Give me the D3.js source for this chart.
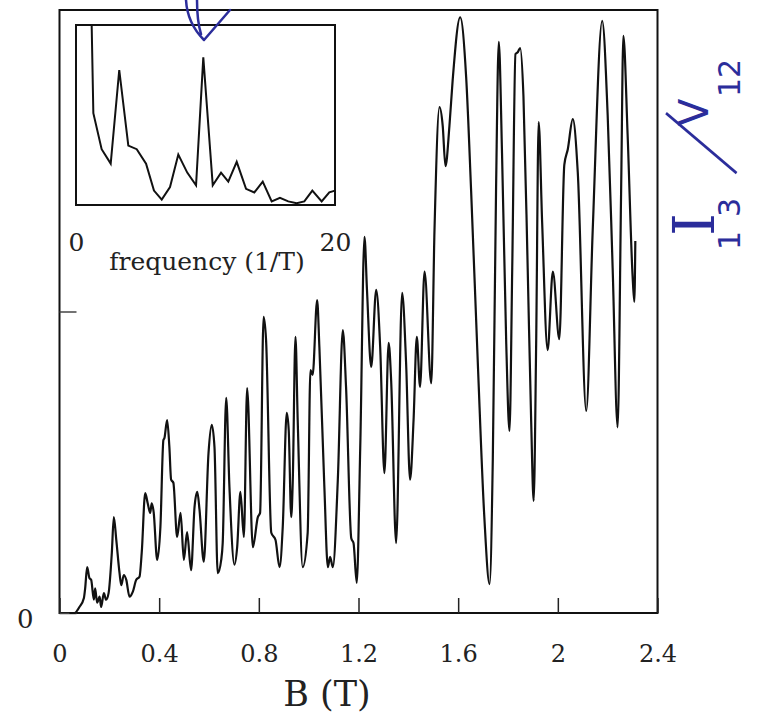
<!DOCTYPE html>
<html>
<head>
<meta charset="utf-8">
<script src="https://cdnjs.cloudflare.com/ajax/libs/d3/7.8.5/d3.min.js"></script>
<style>
body { margin: 0; background: #fff; }
svg { display: block; }
</style>
</head>
<body>
<div id="chart"></div>
<script>
// main trace, B in tesla, signal in arbitrary units (frame top = 1)
var fieldB = [0.04, 0.060, 0.080, 0.098, 0.103, 0.111, 0.120, 0.127, 0.138, 0.143, 0.151, 0.161, 0.167, 0.178, 0.187, 0.197,
    0.210, 0.218, 0.228, 0.241, 0.248, 0.258, 0.268, 0.281, 0.294, 0.308, 0.321, 0.330, 0.344, 0.354, 0.364, 0.370,
    0.378, 0.392, 0.405, 0.417, 0.421, 0.432, 0.441, 0.448, 0.457, 0.472, 0.486, 0.499, 0.512, 0.528, 0.542, 0.553,
    0.562, 0.579, 0.598, 0.611, 0.622, 0.635, 0.649, 0.655, 0.669, 0.682, 0.702, 0.713, 0.726, 0.740, 0.753, 0.776,
    0.796, 0.805, 0.819, 0.829, 0.850, 0.867, 0.883, 0.896, 0.912, 0.920, 0.930, 0.936, 0.947, 0.956, 0.976, 0.996,
    1.007, 1.016, 1.034, 1.043, 1.063, 1.077, 1.086, 1.097, 1.117, 1.137, 1.150, 1.171, 1.180, 1.193, 1.207, 1.224,
    1.234, 1.251, 1.271, 1.287, 1.304, 1.321, 1.331, 1.351, 1.375, 1.391, 1.407, 1.421, 1.434, 1.447, 1.465, 1.492,
    1.505, 1.525, 1.538, 1.549, 1.565, 1.578, 1.608, 1.632, 1.652, 1.679, 1.705, 1.726, 1.739, 1.752, 1.763, 1.776,
    1.793, 1.806, 1.817, 1.830, 1.839, 1.849, 1.862, 1.879, 1.893, 1.903, 1.913, 1.923, 1.937, 1.959, 1.980, 2.006,
    2.026, 2.040, 2.060, 2.080, 2.114, 2.140, 2.178, 2.200, 2.220, 2.240, 2.254, 2.263, 2.280, 2.300, 2.307, 2.311];
var signal = [0.000, 0.000, 0.010, 0.025, 0.041, 0.076, 0.058, 0.055, 0.022, 0.041, 0.017, 0.027, 0.010, 0.033, 0.022, 0.033,
    0.100, 0.159, 0.121, 0.066, 0.046, 0.063, 0.055, 0.027, 0.035, 0.055, 0.060, 0.100, 0.199, 0.182, 0.166, 0.182,
    0.167, 0.088, 0.143, 0.287, 0.290, 0.320, 0.275, 0.221, 0.216, 0.126, 0.166, 0.088, 0.134, 0.071, 0.176, 0.201,
    0.171, 0.085, 0.265, 0.312, 0.275, 0.066, 0.088, 0.116, 0.357, 0.209, 0.080, 0.109, 0.201, 0.126, 0.373, 0.109,
    0.159, 0.166, 0.491, 0.453, 0.133, 0.121, 0.076, 0.143, 0.332, 0.303, 0.159, 0.216, 0.458, 0.320, 0.076, 0.133,
    0.403, 0.395, 0.519, 0.441, 0.209, 0.076, 0.093, 0.076, 0.221, 0.469, 0.375, 0.124, 0.116, 0.050, 0.275, 0.624,
    0.536, 0.408, 0.536, 0.441, 0.232, 0.448, 0.386, 0.116, 0.531, 0.415, 0.221, 0.320, 0.458, 0.375, 0.566, 0.381,
    0.635, 0.839, 0.808, 0.741, 0.808, 0.884, 0.988, 0.889, 0.700, 0.413, 0.159, 0.048, 0.255, 0.700, 0.947, 0.763,
    0.446, 0.302, 0.572, 0.927, 0.930, 0.937, 0.857, 0.572, 0.318, 0.186, 0.446, 0.814, 0.648, 0.436, 0.566, 0.454,
    0.743, 0.769, 0.819, 0.731, 0.335, 0.635, 0.982, 0.826, 0.572, 0.308, 0.700, 0.957, 0.794, 0.559, 0.516, 0.617];

// inset spectrum
var freq = [1.21, 1.34, 1.98, 2.68, 3.34, 4.04, 4.69, 5.41, 6.02, 6.62, 7.26, 7.90, 8.59, 9.27, 9.83, 10.56,
    11.20, 11.76, 12.41, 13.13, 13.77, 14.42, 15.11, 15.75, 16.39, 17.04, 17.63, 18.25, 18.97, 19.56, 20.0];
var amp = [1.0, 0.51, 0.31, 0.23, 0.75, 0.33, 0.31, 0.23, 0.08, 0.03, 0.10, 0.28, 0.18, 0.11, 0.82, 0.11,
    0.18, 0.13, 0.24, 0.09, 0.07, 0.13, 0.02, 0.04, 0.02, 0.01, 0.02, 0.08, 0.02, 0.07, 0.08];

var bTicks = [0, 0.4, 0.8, 1.2, 1.6, 2, 2.4];
var yTicks = [0, 0.5];
var freqTicks = [0, 20];

var width = 757;
var height = 715;
var ink = "#111";
var serif = "DejaVu Serif, serif";

var svg = d3.select("#chart")
    .append("svg")
    .attr("width", width)
    .attr("height", height);

var x = d3.scaleLinear().domain([0, 2.4]).range([59.5, 657.5]);
var y = d3.scaleLinear().domain([0, 1]).range([613, 10]);

svg.append("rect")
    .attr("x", x(0))
    .attr("y", y(1))
    .attr("width", x(2.4) - x(0))
    .attr("height", y(0) - y(1))
    .attr("fill", "none")
    .attr("stroke", ink)
    .attr("stroke-width", 2);

var gx = svg.append("g")
    .attr("transform", "translate(0," + y(0) + ")")
    .call(d3.axisBottom(x).tickValues(bTicks).tickSize(-15).tickPadding(32)
        .tickFormat(function(d){ return d; }));
gx.select(".domain").remove();
gx.attr("font-family", serif).attr("font-size", 24);
gx.selectAll("line").attr("stroke", "#222").attr("stroke-width", 1.5);
gx.selectAll("text").attr("fill", "#222");

var gy = svg.append("g")
    .attr("transform", "translate(" + x(0) + ",0)")
    .call(d3.axisLeft(y).tickValues(yTicks).tickSize(-17).tickPadding(26)
        .tickFormat(function(d){ return d === 0 ? "0" : ""; }));
gy.select(".domain").remove();
gy.attr("font-family", serif).attr("font-size", 26);
gy.selectAll("line").attr("stroke", "#444").attr("stroke-width", 1.5);
gy.selectAll("text").attr("fill", "#222").attr("dy", "0.55em");

svg.append("text")
    .attr("x", 327)
    .attr("y", 706)
    .attr("text-anchor", "middle")
    .attr("font-family", serif)
    .attr("font-size", 35)
    .attr("fill", "#222")
    .text("B (T)");

var trace = d3.zip(fieldB, signal);
svg.append("path")
    .datum(trace)
    .attr("fill", "none")
    .attr("stroke", ink)
    .attr("stroke-width", 2.2)
    .attr("stroke-linejoin", "round")
    .attr("d", d3.line()
        .x(function(d){ return x(d[0]); })
        .y(function(d){ return y(d[1]); })
        .curve(d3.curveMonotoneX));

// inset
var ix = d3.scaleLinear().domain([0, 20]).range([76, 335]);
var iy = d3.scaleLinear().domain([0, 1]).range([205, 25]);

svg.append("rect")
    .attr("x", ix(0))
    .attr("y", iy(1))
    .attr("width", ix(20) - ix(0))
    .attr("height", iy(0) - iy(1))
    .attr("fill", "#fff")
    .attr("stroke", ink)
    .attr("stroke-width", 2);

svg.append("path")
    .datum(d3.zip(freq, amp))
    .attr("fill", "none")
    .attr("stroke", ink)
    .attr("stroke-width", 2)
    .attr("d", d3.line()
        .x(function(d){ return ix(d[0]); })
        .y(function(d){ return iy(d[1]); }));

var gi = svg.append("g")
    .attr("transform", "translate(0," + iy(0) + ")")
    .call(d3.axisBottom(ix).tickValues(freqTicks).tickSize(0).tickPadding(28)
        .tickFormat(function(d){ return d; }));
gi.select(".domain").remove();
gi.attr("font-family", serif).attr("font-size", 25);
gi.selectAll("text").attr("fill", "#222");

svg.append("text")
    .attr("x", 207)
    .attr("y", 270)
    .attr("text-anchor", "middle")
    .attr("font-family", serif)
    .attr("font-size", 25)
    .attr("fill", "#222")
    .text("frequency (1/T)");

// handwritten notes in blue
var pen = "#2b2d9b";
var note = svg.append("g")
    .attr("transform", "translate(712,258) rotate(-90)")
    .attr("fill", pen);
note.append("text").attr("x", 22).attr("y", 2).attr("font-family", serif).attr("font-size", 58).text("I");
note.append("text").attr("x", 8).attr("y", 28).attr("font-family", "DejaVu Sans").attr("font-size", 30)
    .attr("letter-spacing", 14).text("13");
note.append("text").attr("transform", "translate(115,-11) rotate(35) scale(1,3.3)")
    .attr("text-anchor", "middle").attr("dy", "0.32em")
    .attr("font-family", "DejaVu Sans").attr("font-size", 34).text("/");
note.append("text").attr("x", 132).attr("y", -4).attr("font-family", "DejaVu Sans").attr("font-size", 40).text("V");
note.append("text").attr("x", 161).attr("y", 28).attr("font-family", "DejaVu Sans").attr("font-size", 30).text("12");

svg.append("path")
    .attr("d", "M186,0 C187,18 194,30 204,40 L230,10 M197,0 C197,12 198,24 201,34")
    .attr("fill", "none")
    .attr("stroke", pen)
    .attr("stroke-width", 2.5)
    .attr("stroke-linecap", "round")
    .attr("stroke-linejoin", "round");
</script>
</body>
</html>
